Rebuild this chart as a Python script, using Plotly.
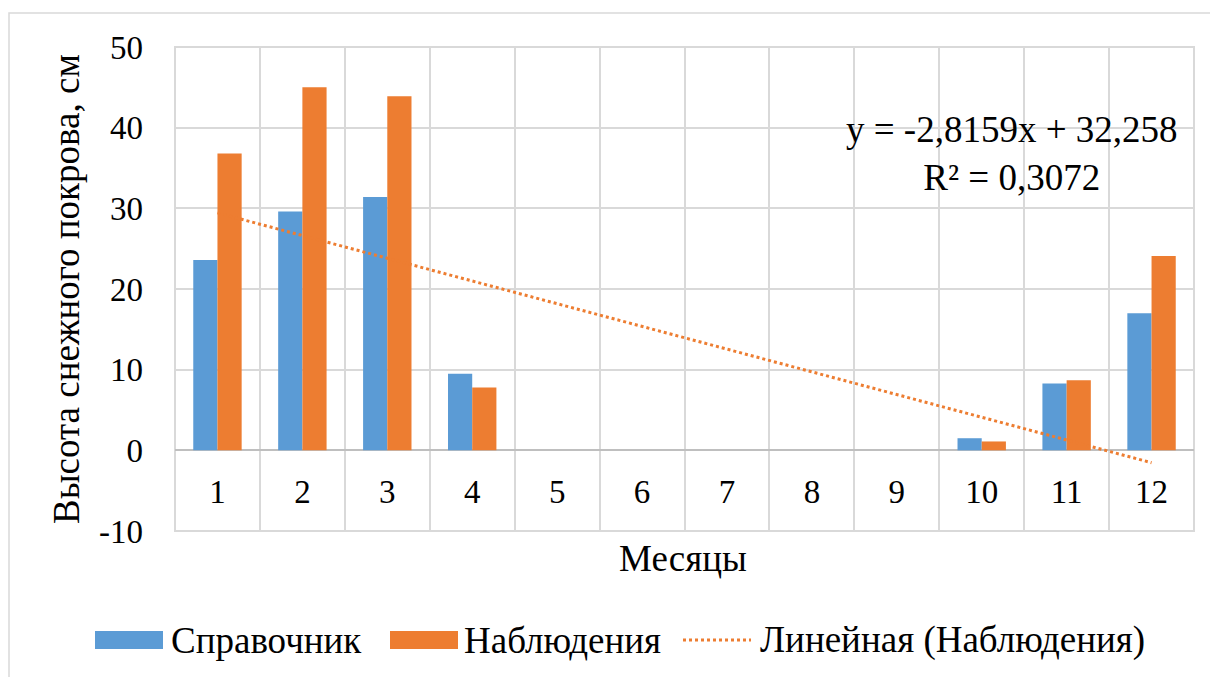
import plotly.graph_objects as go

# Monthly snow depth, cm
months = ["1", "2", "3", "4", "5", "6", "7", "8", "9", "10", "11", "12"]
reference = [23.6, 29.6, 31.4, 9.5, 0, 0, 0, 0, 0, 1.5, 8.3, 17.0]
observed = [36.8, 45.0, 43.9, 7.8, 0, 0, 0, 0, 0, 1.1, 8.7, 24.1]

# Linear trend of the observations, as stated in the equation label
slope = -2.8159
intercept = 32.258
r_squared = 0.3072

y_ticks = [-10, 0, 10, 20, 30, 40, 50]
y_tick_text = ["-10", "0", "10", "20", "30", "40", "50"]

W, H = 1210, 677
L, R, T, B = 175, 16, 47, 146
FONT = "Liberation Serif, 'DejaVu Serif', serif"
TICK_FS = 33
TEXT_FS = 37
BLUE = "#5B9BD5"
ORANGE = "#ED7D31"
GRID = "#D9D9D9"


def px(x):
    return (x - L) / (W - L - R)


def py(y):
    return (H - B - y) / (H - T - B)


def comma(v):
    return str(v).replace(".", ",")


trend_x = list(range(1, len(months) + 1))
trend_y = [slope * x + intercept for x in trend_x]

fig = go.Figure()
fig.add_trace(go.Bar(x=months, y=reference, name="Справочник",
                     marker=dict(color=BLUE, line=dict(width=0))))
fig.add_trace(go.Bar(x=months, y=observed, name="Наблюдения",
                     marker=dict(color=ORANGE, line=dict(width=0))))
fig.add_trace(go.Scatter(x=months, y=trend_y, mode="lines",
                         name="Линейная (Наблюдения)",
                         line=dict(color=ORANGE, width=3, dash="dot")))

fig.update_layout(
    width=W, height=H,
    margin=dict(l=L, r=R, t=T, b=B),
    paper_bgcolor="white", plot_bgcolor="white",
    barmode="group", bargap=0.43, bargroupgap=0,
    showlegend=False,
    font=dict(family=FONT, size=TICK_FS, color="black"),
)
fig.update_xaxes(
    type="category", tickson="boundaries",
    showgrid=True, gridcolor=GRID, gridwidth=2,
    anchor="free", position=py(450),
    showline=False, ticks="", ticklabelstandoff=19,
    tickfont=dict(family=FONT, size=TICK_FS),
)
fig.update_yaxes(
    range=[-10, 50], tickvals=y_ticks, ticktext=y_tick_text,
    showgrid=True, gridcolor=GRID, gridwidth=2,
    zeroline=True, zerolinecolor="#BFBFBF", zerolinewidth=2,
    showline=False, ticks="", ticklabelstandoff=31,
    tickfont=dict(family=FONT, size=TICK_FS),
)

shapes = [
    # plot area frame
    dict(type="rect", xref="paper", yref="paper", x0=0, x1=1, y0=0, y1=1,
         line=dict(color=GRID, width=2), layer="below"),
    # chart frame
    dict(type="rect", xref="paper", yref="paper", x0=px(9), x1=px(1220),
         y0=py(690), y1=py(13), line=dict(color=GRID, width=1.5)),
    # legend swatches
    dict(type="rect", xref="paper", yref="paper", x0=px(95), x1=px(163),
         y0=py(649), y1=py(631), fillcolor=BLUE, line=dict(width=0)),
    dict(type="rect", xref="paper", yref="paper", x0=px(390), x1=px(458),
         y0=py(649), y1=py(631), fillcolor=ORANGE, line=dict(width=0)),
    dict(type="line", xref="paper", yref="paper", x0=px(683), x1=px(751),
         y0=py(640), y1=py(640), line=dict(color=ORANGE, width=3, dash="dot")),
]


def label(text, x, y, xanchor="center", **kw):
    return dict(text=text, xref="paper", yref="paper", x=px(x), y=py(y),
                xanchor=xanchor, yanchor="middle", showarrow=False,
                font=dict(family=FONT, size=TEXT_FS, color="black"), **kw)


annotations = [
    label("Высота снежного покрова, см", 66, 289, textangle=-90),
    label("Месяцы", 683, 558),
    label(f"y = {comma(slope)}x + {comma(intercept)}<br>R² = {comma(r_squared)}",
          1012, 153, align="center"),
    label("Справочник", 169, 640, xanchor="left"),
    label("Наблюдения", 462, 640, xanchor="left"),
    label("Линейная (Наблюдения)", 758, 640, xanchor="left"),
]

fig.update_layout(shapes=shapes, annotations=annotations)
fig.write_html("out.html")
